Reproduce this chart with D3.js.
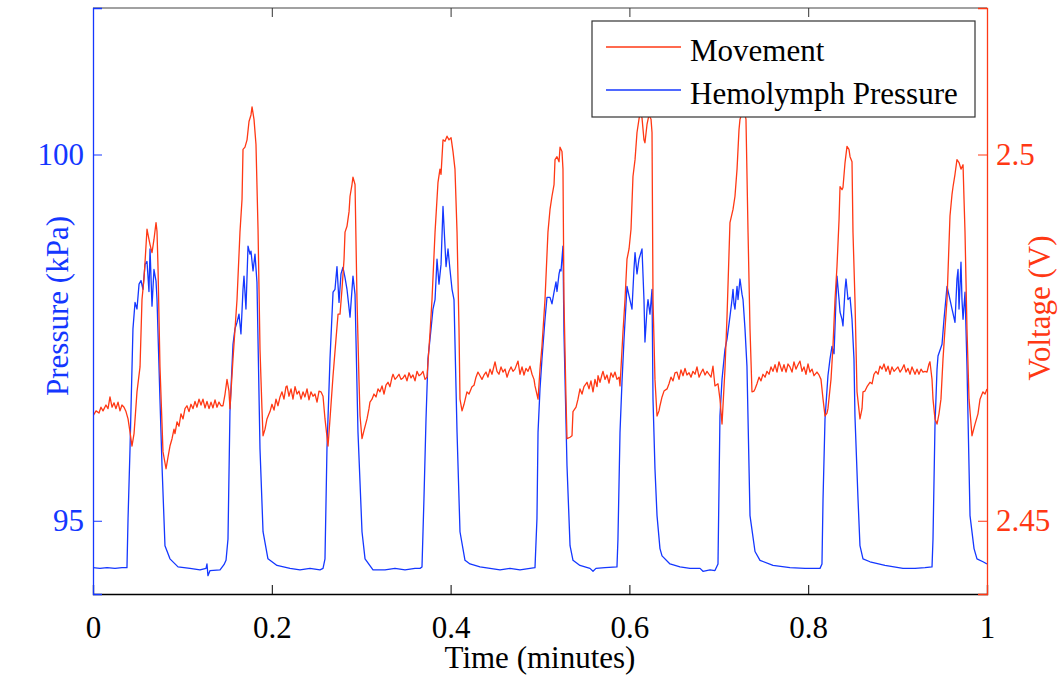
<!DOCTYPE html>
<html>
<head>
<meta charset="utf-8">
<script src="https://cdn.jsdelivr.net/npm/d3@7"></script>
<style>
  body { margin: 0; background: #fff; }
  svg text { font-family: "Liberation Serif", "DejaVu Serif", serif; }
</style>
</head>
<body>
<div id="vis"></div>
<script>
// hemolymph pressure, [time (min), kPa]
const pressure = [
  [0.0000,94.36],[0.0078,94.35],[0.0157,94.36],[0.0246,94.35],[0.0324,94.36],[0.0380,94.36],
  [0.0392,95.03],[0.0414,95.98],[0.0447,97.62],[0.0470,97.98],[0.0492,97.89],[0.0515,98.23],
  [0.0537,98.28],[0.0559,98.16],[0.0582,98.50],[0.0604,98.54],[0.0626,98.13],[0.0638,98.71],
  [0.0660,97.93],[0.0682,98.43],[0.0705,98.27],[0.0716,98.02],[0.0727,97.57],[0.0749,96.66],
  [0.0772,95.75],[0.0805,94.66],[0.0861,94.48],[0.0951,94.37],[0.1085,94.35],[0.1197,94.33],
  [0.1264,94.35],[0.1275,94.41],[0.1286,94.25],[0.1309,94.32],[0.1421,94.33],[0.1465,94.40],
  [0.1488,94.46],[0.1510,94.75],[0.1532,96.49],[0.1566,97.41],[0.1588,97.62],[0.1611,97.71],
  [0.1633,97.82],[0.1655,97.55],[0.1678,98.16],[0.1689,98.34],[0.1711,97.89],[0.1734,98.75],
  [0.1756,98.64],[0.1767,98.68],[0.1790,98.41],[0.1812,98.64],[0.1834,98.26],[0.1868,95.98],
  [0.1902,94.85],[0.1957,94.48],[0.2058,94.39],[0.2204,94.35],[0.2315,94.33],[0.2427,94.35],
  [0.2539,94.33],[0.2573,94.35],[0.2595,94.48],[0.2617,95.98],[0.2651,97.21],[0.2685,98.12],
  [0.2707,98.16],[0.2729,98.47],[0.2752,97.98],[0.2774,98.37],[0.2796,98.46],[0.2819,98.32],
  [0.2841,98.16],[0.2875,97.78],[0.2908,98.34],[0.2931,98.09],[0.2964,96.21],[0.3009,94.85],
  [0.3043,94.48],[0.3132,94.33],[0.3266,94.33],[0.3378,94.35],[0.3490,94.33],[0.3602,94.35],
  [0.3658,94.35],[0.3680,94.37],[0.3702,95.30],[0.3725,96.39],[0.3747,97.21],[0.3781,97.62],
  [0.3803,97.89],[0.3826,98.02],[0.3848,98.57],[0.3870,98.23],[0.3893,98.50],[0.3915,99.29],
  [0.3949,98.47],[0.3971,98.71],[0.3993,98.43],[0.4016,98.16],[0.4038,98.02],[0.4072,96.21],
  [0.4105,94.85],[0.4161,94.46],[0.4217,94.41],[0.4329,94.37],[0.4441,94.35],[0.4553,94.33],
  [0.4664,94.35],[0.4776,94.33],[0.4888,94.35],[0.4944,94.36],[0.4966,95.03],[0.4978,96.21],
  [0.5000,96.80],[0.5022,97.21],[0.5056,97.75],[0.5078,98.05],[0.5112,98.05],[0.5134,97.96],
  [0.5157,98.12],[0.5179,98.26],[0.5190,98.13],[0.5213,98.37],[0.5224,98.43],[0.5235,98.41],
  [0.5257,98.75],[0.5268,97.57],[0.5302,95.75],[0.5336,94.66],[0.5369,94.46],[0.5447,94.39],
  [0.5559,94.35],[0.5593,94.31],[0.5626,94.35],[0.5727,94.36],[0.5861,94.37],[0.5872,94.75],
  [0.5895,96.21],[0.5917,96.89],[0.5940,97.48],[0.5973,98.20],[0.5996,98.07],[0.6029,97.89],
  [0.6051,98.43],[0.6063,98.66],[0.6085,98.37],[0.6107,98.57],[0.6141,98.71],[0.6163,98.02],
  [0.6174,97.44],[0.6197,97.89],[0.6208,98.02],[0.6230,97.82],[0.6253,98.16],[0.6264,96.66],
  [0.6286,95.71],[0.6309,95.07],[0.6342,94.62],[0.6365,94.52],[0.6454,94.41],[0.6566,94.37],
  [0.6678,94.35],[0.6790,94.35],[0.6823,94.31],[0.6902,94.33],[0.6957,94.32],[0.6991,94.41],
  [0.7013,96.43],[0.7036,96.93],[0.7069,97.34],[0.7092,97.48],[0.7125,97.79],[0.7148,98.02],
  [0.7159,98.16],[0.7170,97.96],[0.7181,97.89],[0.7204,98.20],[0.7215,98.02],[0.7237,98.30],
  [0.7260,98.09],[0.7271,98.02],[0.7293,97.62],[0.7315,97.11],[0.7349,95.07],[0.7405,94.58],
  [0.7461,94.46],[0.7606,94.39],[0.7796,94.36],[0.7964,94.35],[0.8076,94.35],[0.8132,94.35],
  [0.8154,94.41],[0.8166,95.30],[0.8188,96.39],[0.8221,96.98],[0.8244,97.21],[0.8266,97.38],
  [0.8289,97.28],[0.8311,98.02],[0.8322,98.34],[0.8345,98.02],[0.8356,97.85],[0.8378,97.75],
  [0.8389,97.66],[0.8412,98.16],[0.8423,98.30],[0.8445,98.02],[0.8468,98.05],[0.8490,97.75],
  [0.8512,97.21],[0.8523,96.43],[0.8557,95.30],[0.8579,94.66],[0.8613,94.48],[0.8691,94.44],
  [0.8859,94.39],[0.9060,94.35],[0.9195,94.35],[0.9306,94.36],[0.9385,94.37],[0.9396,94.75],
  [0.9418,96.29],[0.9441,97.07],[0.9452,97.25],[0.9497,97.41],[0.9519,97.75],[0.9553,98.20],
  [0.9586,98.02],[0.9609,97.89],[0.9642,97.71],[0.9664,98.30],[0.9676,98.43],[0.9687,97.89],
  [0.9709,98.53],[0.9720,98.02],[0.9732,97.75],[0.9754,98.12],[0.9776,97.11],[0.9810,95.07],
  [0.9855,94.62],[0.9888,94.48],[0.9955,94.44],[1.0000,94.41]
];

// movement sensor, [time (min), volts]
const movement = [
  [0.0000,2.4643],[0.0034,2.4650],[0.0067,2.4647],[0.0089,2.4655],[0.0112,2.4650],[0.0145,2.4658],
  [0.0168,2.4653],[0.0190,2.4669],[0.0213,2.4655],[0.0235,2.4661],[0.0257,2.4653],[0.0280,2.4662],
  [0.0302,2.4650],[0.0324,2.4658],[0.0347,2.4655],[0.0369,2.4649],[0.0392,2.4639],[0.0414,2.4621],
  [0.0436,2.4602],[0.0459,2.4619],[0.0492,2.4676],[0.0526,2.4710],[0.0548,2.4802],[0.0570,2.4830],
  [0.0582,2.4853],[0.0604,2.4898],[0.0626,2.4884],[0.0638,2.4877],[0.0660,2.4866],[0.0682,2.4884],
  [0.0705,2.4907],[0.0716,2.4895],[0.0727,2.4847],[0.0749,2.4711],[0.0783,2.4594],[0.0817,2.4571],
  [0.0839,2.4587],[0.0861,2.4602],[0.0884,2.4612],[0.0906,2.4625],[0.0917,2.4619],[0.0940,2.4635],
  [0.0962,2.4629],[0.0984,2.4646],[0.1007,2.4639],[0.1029,2.4653],[0.1051,2.4657],[0.1074,2.4649],
  [0.1096,2.4659],[0.1119,2.4653],[0.1141,2.4663],[0.1163,2.4655],[0.1186,2.4666],[0.1208,2.4658],
  [0.1230,2.4666],[0.1253,2.4654],[0.1275,2.4663],[0.1298,2.4653],[0.1320,2.4662],[0.1342,2.4654],
  [0.1365,2.4665],[0.1387,2.4655],[0.1409,2.4662],[0.1432,2.4657],[0.1454,2.4657],[0.1477,2.4673],
  [0.1499,2.4693],[0.1521,2.4677],[0.1532,2.4653],[0.1566,2.4721],[0.1611,2.4802],[0.1644,2.4894],
  [0.1667,2.4939],[0.1678,2.5007],[0.1700,2.5010],[0.1723,2.5020],[0.1745,2.5045],[0.1767,2.5054],
  [0.1779,2.5065],[0.1801,2.5048],[0.1823,2.5014],[0.1846,2.4898],[0.1868,2.4734],[0.1890,2.4653],
  [0.1902,2.4616],[0.1924,2.4625],[0.1946,2.4639],[0.1969,2.4646],[0.1980,2.4649],[0.2002,2.4659],
  [0.2025,2.4651],[0.2047,2.4666],[0.2069,2.4657],[0.2092,2.4669],[0.2114,2.4676],[0.2136,2.4666],
  [0.2159,2.4683],[0.2170,2.4684],[0.2192,2.4670],[0.2215,2.4680],[0.2237,2.4666],[0.2260,2.4683],
  [0.2282,2.4673],[0.2304,2.4677],[0.2327,2.4666],[0.2349,2.4676],[0.2371,2.4669],[0.2394,2.4680],
  [0.2416,2.4665],[0.2438,2.4676],[0.2461,2.4670],[0.2483,2.4673],[0.2506,2.4662],[0.2528,2.4677],
  [0.2550,2.4676],[0.2573,2.4670],[0.2595,2.4639],[0.2629,2.4602],[0.2651,2.4639],[0.2685,2.4698],
  [0.2718,2.4748],[0.2741,2.4782],[0.2763,2.4782],[0.2785,2.4816],[0.2808,2.4857],[0.2819,2.4894],
  [0.2841,2.4902],[0.2864,2.4922],[0.2875,2.4943],[0.2897,2.4959],[0.2908,2.4969],[0.2931,2.4959],
  [0.2953,2.4802],[0.2975,2.4693],[0.2987,2.4643],[0.3009,2.4612],[0.3031,2.4623],[0.3065,2.4639],
  [0.3087,2.4653],[0.3098,2.4662],[0.3121,2.4666],[0.3143,2.4673],[0.3166,2.4669],[0.3188,2.4680],
  [0.3210,2.4676],[0.3233,2.4684],[0.3255,2.4673],[0.3277,2.4685],[0.3300,2.4689],[0.3322,2.4683],
  [0.3345,2.4696],[0.3356,2.4700],[0.3378,2.4693],[0.3400,2.4696],[0.3423,2.4700],[0.3445,2.4693],
  [0.3468,2.4695],[0.3490,2.4699],[0.3512,2.4691],[0.3535,2.4702],[0.3557,2.4695],[0.3579,2.4699],
  [0.3602,2.4691],[0.3624,2.4704],[0.3647,2.4698],[0.3669,2.4700],[0.3691,2.4704],[0.3714,2.4693],
  [0.3736,2.4696],[0.3770,2.4757],[0.3792,2.4802],[0.3826,2.4894],[0.3859,2.4962],[0.3881,2.4980],
  [0.3893,2.4973],[0.3915,2.5020],[0.3937,2.5018],[0.3960,2.5025],[0.3982,2.5020],[0.4005,2.5023],
  [0.4027,2.5004],[0.4049,2.4980],[0.4072,2.4894],[0.4094,2.4762],[0.4105,2.4666],[0.4128,2.4650],
  [0.4150,2.4659],[0.4183,2.4676],[0.4206,2.4673],[0.4239,2.4683],[0.4262,2.4685],[0.4284,2.4696],
  [0.4306,2.4703],[0.4329,2.4698],[0.4351,2.4693],[0.4374,2.4699],[0.4396,2.4703],[0.4418,2.4696],
  [0.4441,2.4707],[0.4463,2.4700],[0.4497,2.4717],[0.4519,2.4704],[0.4541,2.4700],[0.4564,2.4710],
  [0.4586,2.4703],[0.4609,2.4707],[0.4631,2.4696],[0.4653,2.4704],[0.4676,2.4710],[0.4698,2.4704],
  [0.4720,2.4707],[0.4754,2.4718],[0.4776,2.4700],[0.4799,2.4710],[0.4821,2.4699],[0.4843,2.4708],
  [0.4866,2.4704],[0.4888,2.4711],[0.4911,2.4700],[0.4933,2.4693],[0.4944,2.4684],[0.4978,2.4666],
  [0.5000,2.4707],[0.5022,2.4738],[0.5056,2.4802],[0.5089,2.4894],[0.5112,2.4925],[0.5134,2.4943],
  [0.5157,2.4959],[0.5168,2.4993],[0.5190,2.4997],[0.5213,2.4990],[0.5224,2.5010],[0.5246,2.5004],
  [0.5257,2.4980],[0.5268,2.4802],[0.5291,2.4666],[0.5302,2.4612],[0.5336,2.4614],[0.5358,2.4616],
  [0.5369,2.4649],[0.5403,2.4655],[0.5425,2.4666],[0.5447,2.4680],[0.5470,2.4673],[0.5492,2.4683],
  [0.5526,2.4689],[0.5548,2.4680],[0.5570,2.4691],[0.5593,2.4676],[0.5615,2.4693],[0.5638,2.4683],
  [0.5649,2.4698],[0.5671,2.4689],[0.5694,2.4700],[0.5705,2.4704],[0.5727,2.4693],[0.5749,2.4699],
  [0.5772,2.4688],[0.5794,2.4702],[0.5817,2.4696],[0.5839,2.4703],[0.5861,2.4693],[0.5884,2.4696],
  [0.5895,2.4684],[0.5928,2.4757],[0.5951,2.4802],[0.5973,2.4857],[0.5996,2.4871],[0.6018,2.4898],
  [0.6040,2.4970],[0.6063,2.4993],[0.6085,2.5030],[0.6107,2.5048],[0.6119,2.5057],[0.6141,2.5050],
  [0.6163,2.5020],[0.6174,2.5016],[0.6197,2.5041],[0.6219,2.5054],[0.6242,2.5048],[0.6253,2.5030],
  [0.6264,2.4802],[0.6286,2.4693],[0.6309,2.4643],[0.6331,2.4650],[0.6342,2.4657],[0.6365,2.4669],
  [0.6387,2.4677],[0.6421,2.4680],[0.6443,2.4687],[0.6465,2.4696],[0.6488,2.4691],[0.6510,2.4702],
  [0.6532,2.4703],[0.6555,2.4693],[0.6577,2.4706],[0.6600,2.4698],[0.6622,2.4708],[0.6644,2.4699],
  [0.6667,2.4702],[0.6689,2.4696],[0.6711,2.4704],[0.6734,2.4700],[0.6756,2.4710],[0.6779,2.4696],
  [0.6801,2.4702],[0.6823,2.4707],[0.6846,2.4699],[0.6868,2.4704],[0.6890,2.4700],[0.6913,2.4696],
  [0.6935,2.4711],[0.6957,2.4684],[0.6991,2.4687],[0.7013,2.4666],[0.7036,2.4632],[0.7069,2.4707],
  [0.7092,2.4779],[0.7125,2.4907],[0.7159,2.4925],[0.7181,2.4943],[0.7204,2.4980],[0.7226,2.5034],
  [0.7237,2.5048],[0.7260,2.5057],[0.7282,2.5061],[0.7304,2.5048],[0.7327,2.4894],[0.7349,2.4762],
  [0.7371,2.4676],[0.7394,2.4677],[0.7405,2.4680],[0.7427,2.4687],[0.7450,2.4696],[0.7472,2.4691],
  [0.7494,2.4700],[0.7517,2.4696],[0.7539,2.4704],[0.7562,2.4700],[0.7584,2.4710],[0.7606,2.4704],
  [0.7629,2.4713],[0.7651,2.4703],[0.7673,2.4717],[0.7707,2.4704],[0.7729,2.4713],[0.7752,2.4703],
  [0.7774,2.4714],[0.7796,2.4710],[0.7819,2.4703],[0.7841,2.4717],[0.7863,2.4707],[0.7886,2.4713],
  [0.7908,2.4718],[0.7931,2.4704],[0.7953,2.4710],[0.7975,2.4700],[0.7998,2.4714],[0.8020,2.4703],
  [0.8043,2.4707],[0.8065,2.4698],[0.8098,2.4703],[0.8121,2.4699],[0.8143,2.4693],[0.8166,2.4666],
  [0.8188,2.4643],[0.8210,2.4647],[0.8221,2.4653],[0.8255,2.4693],[0.8277,2.4738],[0.8300,2.4802],
  [0.8322,2.4847],[0.8345,2.4911],[0.8356,2.4956],[0.8378,2.4952],[0.8389,2.4955],[0.8412,2.4989],
  [0.8434,2.5011],[0.8456,2.5007],[0.8468,2.4997],[0.8490,2.4990],[0.8501,2.4894],[0.8523,2.4802],
  [0.8546,2.4676],[0.8579,2.4639],[0.8602,2.4653],[0.8613,2.4676],[0.8635,2.4677],[0.8658,2.4683],
  [0.8691,2.4689],[0.8714,2.4687],[0.8736,2.4700],[0.8758,2.4704],[0.8781,2.4700],[0.8803,2.4711],
  [0.8826,2.4707],[0.8848,2.4714],[0.8870,2.4704],[0.8893,2.4711],[0.8915,2.4700],[0.8937,2.4710],
  [0.8960,2.4704],[0.9004,2.4710],[0.9027,2.4703],[0.9049,2.4707],[0.9072,2.4713],[0.9094,2.4703],
  [0.9116,2.4708],[0.9139,2.4700],[0.9161,2.4710],[0.9195,2.4700],[0.9217,2.4707],[0.9239,2.4700],
  [0.9262,2.4707],[0.9284,2.4703],[0.9306,2.4704],[0.9329,2.4703],[0.9351,2.4714],[0.9362,2.4717],
  [0.9385,2.4693],[0.9396,2.4666],[0.9418,2.4639],[0.9441,2.4632],[0.9463,2.4646],[0.9485,2.4666],
  [0.9508,2.4721],[0.9530,2.4762],[0.9553,2.4802],[0.9586,2.4916],[0.9609,2.4946],[0.9620,2.4956],
  [0.9642,2.4973],[0.9664,2.4993],[0.9687,2.4989],[0.9709,2.4980],[0.9732,2.4986],[0.9743,2.4939],
  [0.9754,2.4894],[0.9776,2.4762],[0.9799,2.4666],[0.9832,2.4616],[0.9866,2.4632],[0.9899,2.4646],
  [0.9922,2.4666],[0.9955,2.4676],[0.9978,2.4673],[1.0000,2.4680]
];

const timeTicks = [0, 0.2, 0.4, 0.6, 0.8, 1];
const pressureTicks = [95, 100];
const voltageTicks = [2.45, 2.5];
const seriesNames = ["Movement", "Hemolymph Pressure"];

const W = 1058, H = 677;
const margin = {top: 8, right: 71, bottom: 83, left: 93};
const iw = W - margin.left - margin.right,
      ih = H - margin.top - margin.bottom;
const fs = 31;

const blue = "#1437ff", red = "#ff3814";

const x = d3.scaleLinear().domain([0, 1]).range([0, iw]);
const yP = d3.scaleLinear().domain([94, 102]).range([ih, 0]);
const yV = d3.scaleLinear().domain([2.44, 2.52]).range([ih, 0]);

const svg = d3.select("#vis").append("svg")
    .attr("width", W)
    .attr("height", H);

const g = svg.append("g")
    .attr("transform", "translate(" + margin.left + "," + margin.top + ")");

g.append("clipPath").attr("id", "plotclip")
  .append("rect").attr("width", iw).attr("height", ih);

// frame top edge
g.append("line")
    .attr("x1", 0).attr("x2", iw).attr("y1", 0).attr("y2", 0)
    .attr("stroke", "#444").attr("stroke-width", 1.2);

// data lines
const linePressure = d3.line().x(d => x(d[0])).y(d => yP(d[1]));
const lineMovement = d3.line().x(d => x(d[0])).y(d => yV(d[1]));

g.append("path").datum(pressure)
    .attr("clip-path", "url(#plotclip)")
    .attr("d", linePressure)
    .attr("fill", "none").attr("stroke", blue).attr("stroke-width", 1.3)
    .attr("stroke-linejoin", "round");

g.append("path").datum(movement)
    .attr("clip-path", "url(#plotclip)")
    .attr("d", lineMovement)
    .attr("fill", "none").attr("stroke", red).attr("stroke-width", 1.3)
    .attr("stroke-linejoin", "round");

// bottom axis, ticks point inward
const xAxis = g.append("g")
    .attr("transform", "translate(0," + ih + ")")
    .call(d3.axisBottom(x).tickValues(timeTicks).tickSize(-9).tickPadding(22)
        .tickFormat(d3.format("~g")));
xAxis.select(".domain").attr("stroke", "#000").attr("stroke-width", 1.3);
xAxis.selectAll(".tick line").attr("stroke", "#000");
xAxis.selectAll("text").attr("font-size", fs).attr("fill", "#000")
    .attr("font-family", "Liberation Serif");

// top ticks
g.append("g")
    .call(d3.axisTop(x).tickValues(timeTicks).tickSize(-9).tickFormat(""))
    .call(a => a.select(".domain").remove())
    .selectAll(".tick line").attr("stroke", "#333");

// left axis
const lAxis = g.append("g")
    .call(d3.axisLeft(yP).tickValues(pressureTicks).tickSize(-9).tickPadding(9));
lAxis.select(".domain").attr("stroke", blue).attr("stroke-width", 1.3);
lAxis.selectAll(".tick line").attr("stroke", blue);
lAxis.selectAll("text").attr("font-size", fs).attr("fill", blue)
    .attr("font-family", "Liberation Serif");

// right axis
const rAxis = g.append("g")
    .attr("transform", "translate(" + iw + ",0)")
    .call(d3.axisRight(yV).tickValues(voltageTicks).tickSize(-9).tickPadding(9)
        .tickFormat(d3.format("~g")));
rAxis.select(".domain").attr("stroke", red).attr("stroke-width", 1.3);
rAxis.selectAll(".tick line").attr("stroke", red);
rAxis.selectAll("text").attr("font-size", fs).attr("fill", red)
    .attr("font-family", "Liberation Serif");

// axis titles
svg.append("text")
    .attr("x", margin.left + iw / 2).attr("y", 668)
    .attr("text-anchor", "middle")
    .attr("font-size", fs).attr("fill", "#000")
    .text("Time (minutes)");

svg.append("text")
    .attr("transform", "translate(68,306)rotate(-90)")
    .attr("text-anchor", "middle")
    .attr("font-size", fs).attr("fill", blue)
    .text("Pressure (kPa)");

svg.append("text")
    .attr("transform", "translate(1050,308)rotate(-90)")
    .attr("text-anchor", "middle")
    .attr("font-size", fs).attr("fill", red)
    .text("Voltage (V)");

// legend
const legend = svg.append("g").attr("transform", "translate(592,21)");
legend.append("rect")
    .attr("width", 383).attr("height", 96)
    .attr("fill", "#fff").attr("stroke", "#333").attr("stroke-width", 1.2);

const legendColors = [red, blue];
seriesNames.forEach(function (name, i) {
    const yy = 26 + i * 43;
    legend.append("line")
        .attr("x1", 14).attr("x2", 89).attr("y1", yy).attr("y2", yy)
        .attr("stroke", legendColors[i]).attr("stroke-width", 1.3);
    legend.append("text")
        .attr("x", 98).attr("y", yy + 14)
        .attr("font-size", fs).attr("fill", "#000")
        .text(name);
});
</script>
</body>
</html>
